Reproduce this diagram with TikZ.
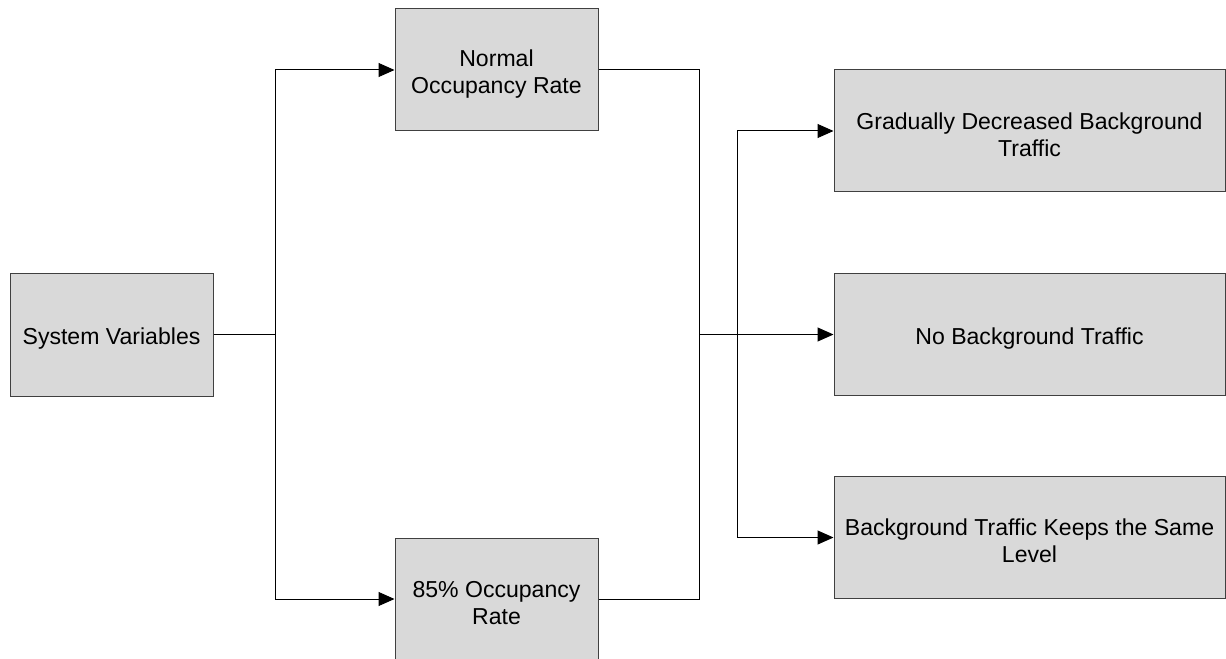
\documentclass[tikz,border=0pt]{standalone}
\usepackage{fontspec}
\setmainfont{Liberation Sans}
\usetikzlibrary{arrows.meta}
\newcommand{\topstrut}{\rule{0pt}{18pt}}
\begin{document}
\begin{tikzpicture}[x=0.75pt,y=-0.75pt,
  box/.style={draw=black!75, fill=black!15, line width=0.75pt, align=center,
    font=\fontsize{17.3}{20.3}\selectfont, inner sep=0pt},
  conn/.style={draw=black, line width=0.75pt},
  arr/.style={conn, -{Triangle[length=12pt,width=10.5pt]}}]
\useasboundingbox (0,0) rectangle (1226,659);
\node[box, minimum width=152.25pt, minimum height=92.25pt] (sv) at (111.5,334.5) {\topstrut System Variables};
\node[box, minimum width=152.25pt, minimum height=91.5pt] (normal) at (496.5,70) {\topstrut Normal\\Occupancy Rate};
\node[box, minimum width=152.25pt, minimum height=91.5pt] (p85) at (496.5,599) {\topstrut 85\% Occupancy\\Rate};
\node[box, minimum width=293.25pt, minimum height=91.5pt] (grad) at (1029.5,131) {\topstrut Gradually Decreased Background\\Traffic};
\node[box, minimum width=293.25pt, minimum height=91.5pt] (nobg) at (1029.5,334.5) {\topstrut No Background Traffic};
\node[box, minimum width=293.25pt, minimum height=91.5pt] (keep) at (1029.5,537.5) {\topstrut Background Traffic Keeps the Same\\Level};
\coordinate (j1) at (275,334.5);
\coordinate (j2) at (699,334.5);
\coordinate (j3) at (737,334.5);
\draw[conn] (sv.east) -- (j1);
\draw[arr] (j1) |- (normal.west);
\draw[arr] (j1) |- (p85.west);
\draw[conn] (normal.east) -| (j2);
\draw[conn] (p85.east) -| (j2);
\draw[arr] (j2) -- (nobg.west);
\draw[arr] (j3) |- (grad.west);
\draw[arr] (j3) |- (keep.west);
\end{tikzpicture}
\end{document}
